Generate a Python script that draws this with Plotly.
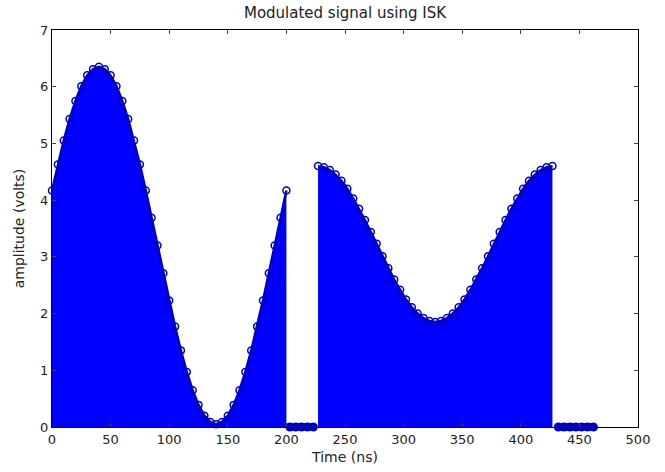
import plotly.graph_objects as go

# Segment 1 (first symbol): time (ns) and amplitude (volts)
t1 = [0, 5, 10, 15, 20, 25, 30, 35, 40, 45, 50, 55, 60, 65, 70, 75, 80, 85, 90, 95,
      100, 105, 110, 115, 120, 125, 130, 135, 140, 145, 150, 155, 160, 165, 170, 175,
      180, 185, 190, 195, 200]
a1 = [4.17, 4.63, 5.05, 5.43, 5.75, 6.01, 6.20, 6.31, 6.35, 6.31, 6.20, 6.01, 5.75,
      5.43, 5.05, 4.63, 4.17, 3.69, 3.20, 2.71, 2.23, 1.77, 1.35, 0.97, 0.65, 0.39,
      0.20, 0.09, 0.05, 0.09, 0.20, 0.39, 0.65, 0.97, 1.35, 1.77, 2.23, 2.71, 3.20,
      3.69, 4.17]

# Zero gap after first symbol
t2 = [203, 208, 213, 218, 223]
a2 = [0, 0, 0, 0, 0]

# Segment 3 (second symbol)
t3 = [227, 232, 237, 242, 247, 252, 257, 262, 267, 272, 277, 282, 287, 292, 297, 302,
      307, 312, 317, 322, 327, 332, 337, 342, 347, 352, 357, 362, 367, 372, 377, 382,
      387, 392, 397, 402, 407, 412, 417, 422, 427]
a3 = [4.60, 4.58, 4.53, 4.45, 4.34, 4.20, 4.03, 3.85, 3.65, 3.44, 3.23, 3.01, 2.80,
      2.60, 2.42, 2.25, 2.11, 2.00, 1.92, 1.87, 1.85, 1.87, 1.92, 2.00, 2.11, 2.25,
      2.42, 2.60, 2.80, 3.01, 3.23, 3.44, 3.65, 3.85, 4.03, 4.20, 4.34, 4.45, 4.53,
      4.58, 4.60]

# Trailing zeros
t4 = [432, 437, 442, 447, 452, 457, 462]
a4 = [0, 0, 0, 0, 0, 0, 0]

x_ticks = [0, 50, 100, 150, 200, 250, 300, 350, 400, 450, 500]
y_ticks = [0, 1, 2, 3, 4, 5, 6, 7]

BLUE = "#0000FF"
EDGE = "#0000C0"

fig = go.Figure()
for tx, ay, filled in [(t1, a1, True), (t2, a2, False), (t3, a3, True), (t4, a4, False)]:
    if filled:
        marker = dict(symbol="circle-open", size=7, color=EDGE, line=dict(width=1.5))
        line = dict(color=EDGE, width=2.5)
    else:
        marker = dict(symbol="circle", size=9, color=EDGE, line=dict(width=0))
        line = dict(color=EDGE, width=8)
    fig.add_trace(go.Scatter(
        x=tx, y=ay,
        mode="lines+markers",
        fill="tozeroy" if filled else None,
        fillcolor=BLUE,
        line=line,
        marker=marker,
        cliponaxis=False,
        showlegend=False,
        hoverinfo="x+y",
    ))

FONT = "DejaVu Sans, Liberation Sans, Arial, sans-serif"
tick_font = dict(family=FONT, size=13, color="#222222")
label_font = dict(family=FONT, size=14, color="#222222")

fig.update_layout(
    width=665, height=472,
    margin=dict(l=52, r=27, t=30, b=45),
    paper_bgcolor="white", plot_bgcolor="white",
    title=dict(text="Modulated signal using ISK", x=0.5, xref="paper",
               y=1 - 13 / 472, yref="container", yanchor="middle",
               font=dict(family=FONT, size=15, color="#222222")),
    xaxis=dict(range=[0, 500], tickvals=x_ticks, ticks="inside", ticklen=4,
               showline=True, linecolor="black", linewidth=1, mirror="ticks",
               showgrid=False, zeroline=False, tickfont=tick_font, automargin=False,
               title=dict(text="Time (ns)", font=label_font, standoff=6)),
    yaxis=dict(range=[0, 7], tickvals=y_ticks, ticks="inside", ticklen=4,
               showline=True, linecolor="black", linewidth=1, mirror="ticks",
               showgrid=False, zeroline=False, tickfont=tick_font, automargin=False,
               title=dict(text="amplitude (volts)", font=label_font, standoff=12)),
)

fig.write_html("out.html", config={"displayModeBar": False},
               post_script="document.body.style.margin='0px';")
